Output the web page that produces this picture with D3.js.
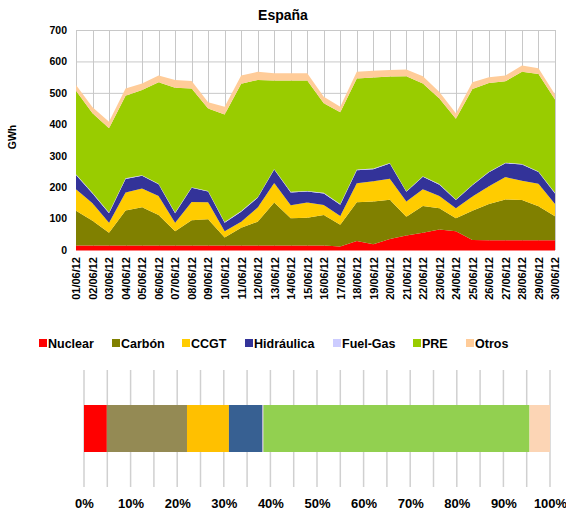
<!DOCTYPE html>
<html>
<head>
<meta charset="utf-8">
<script src="https://cdn.jsdelivr.net/npm/d3@7"></script>
<style>
  body { margin: 0; background: #fff; }
  text { font-family: Arial, "Liberation Sans", sans-serif; font-weight: bold; fill: #000; }
</style>
</head>
<body>
<svg id="chart" width="566" height="513"></svg>
<script>
/********************************************************
 ********************* Data *****************************
 ********************************************************/
var dates = ["01/06/12","02/06/12","03/06/12","04/06/12","05/06/12","06/06/12","07/06/12","08/06/12","09/06/12","10/06/12",
             "11/06/12","12/06/12","13/06/12","14/06/12","15/06/12","16/06/12","17/06/12","18/06/12","19/06/12","20/06/12",
             "21/06/12","22/06/12","23/06/12","24/06/12","25/06/12","26/06/12","27/06/12","28/06/12","29/06/12","30/06/12"];

// GWh per day
var nuclear    = [14,14,14,14,14,14,14,14,14,14,14,14,14,14,14,14,11,29,18,35,46,55,65,60,32,31,31,31,31,31];
var carbon     = [111,79,41,112,122,97,46,81,84,26,57,76,137,87,89,97,69,123,136,125,60,85,68,41,93,115,130,128,108,76];
var ccgt       = [68,56,32,57,60,61,27,58,54,20,19,45,62,41,48,32,28,60,65,67,48,53,39,32,45,57,71,61,72,39];
var hidraulica = [46,31,30,43,40,37,30,45,34,27,32,31,43,41,35,37,36,42,38,48,31,40,36,26,36,44,44,52,37,34];
var fuelgas    = [2,2,2,2,2,2,2,2,2,2,2,2,2,2,2,2,2,2,2,2,2,2,2,2,2,2,2,2,2,2];
var pre        = [266,253,268,263,271,323,397,314,262,342,405,373,281,354,351,285,292,290,290,275,366,295,272,257,304,282,259,293,310,297];
var otros      = [18,19,21,23,21,21,25,24,20,25,26,26,23,23,23,21,18,21,21,21,21,23,21,17,22,19,18,20,18,16];

var series_names = ["Nuclear","Carbón","CCGT","Hidráulica","Fuel-Gas","PRE","Otros"];
var area_colors  = ["#ff0000","#808000","#ffcc00","#333399","#ccccff","#99cc00","#ffcc99"];
var bar_colors   = ["#ff0000","#948a54","#ffc000","#376092","#b9b1d6","#92d050","#fcd5b5"];

// share of the month, percent
var shares = [4.9,17.2,9.0,7.1,0.3,57.1,4.4];

var y_ticks   = [0,100,200,300,400,500,600,700];
var pct_ticks = [0,10,20,30,40,50,60,70,80,90,100];

/********************************************************
 ********************* Stacked area *********************
 ********************************************************/
var svg = d3.select("#chart");
svg.append("rect").attr("width",566).attr("height",513).attr("fill","#fff");

var plot = {left: 76, right: 555, top: 30, bottom: 250};

var rows = dates.map(function(d, i) {
  return {date: d, "Nuclear": nuclear[i], "Carbón": carbon[i], "CCGT": ccgt[i], "Hidráulica": hidraulica[i],
          "Fuel-Gas": fuelgas[i], "PRE": pre[i], "Otros": otros[i]};
});

var x = d3.scalePoint().domain(dates).range([plot.left, plot.right]);
var y = d3.scaleLinear().domain([0, 700]).range([plot.bottom, plot.top]);

// gridlines
var grid = svg.append("g").attr("stroke","#c8c8c8").attr("stroke-width",1);
grid.selectAll(".hg").data(y_ticks).enter().append("line")
  .attr("x1",plot.left).attr("x2",plot.right)
  .attr("y1",function(d){ return y(d)+0.5; }).attr("y2",function(d){ return y(d)+0.5; });
grid.selectAll(".vg").data(dates).enter().append("line")
  .attr("y1",plot.top).attr("y2",plot.bottom)
  .attr("x1",function(d){ return Math.round(x(d))+0.5; }).attr("x2",function(d){ return Math.round(x(d))+0.5; });

var stack = d3.stack().keys(series_names);
var layers = stack(rows);

var area = d3.area()
  .x(function(d){ return x(d.data.date); })
  .y0(function(d){ return y(d[0]); })
  .y1(function(d){ return y(d[1]); });

svg.append("g").selectAll("path").data(layers).enter().append("path")
  .attr("d", area)
  .attr("fill", function(d, i){ return area_colors[i]; });

// y axis
var yAxis = svg.append("g")
  .attr("transform","translate(" + plot.left + ",0)")
  .call(d3.axisLeft(y).tickValues(y_ticks).tickSize(0).tickPadding(9));
yAxis.select(".domain").remove();
yAxis.selectAll("text").style("font-size","10.5px");

// x axis
var xAxis = svg.append("g")
  .attr("transform","translate(0," + plot.bottom + ")")
  .call(d3.axisBottom(x).tickSize(0));
xAxis.select(".domain").remove();
xAxis.selectAll("text")
    .attr("transform","rotate(-90)")
    .attr("x",-7)
    .attr("y",0)
    .attr("dy","0.35em")
    .style("text-anchor","end")
    .style("font-size","11px");

svg.append("line").attr("x1",plot.left).attr("x2",plot.right)
  .attr("y1",plot.bottom+0.5).attr("y2",plot.bottom+0.5).attr("stroke","#ff8080");

svg.append("text").attr("x",283).attr("y",20).attr("text-anchor","middle")
  .style("font-size","14px").text("España");

svg.append("text").attr("transform","translate(16,137) rotate(-90)")
  .attr("text-anchor","middle").style("font-size","10.5px").text("GWh");

/********************************************************
 ********************* Legend ***************************
 ********************************************************/
var legend_x = [39,112,182,245,333,413,466];
var legend = svg.append("g").selectAll("g").data(series_names).enter().append("g")
  .attr("transform", function(d, i){ return "translate(" + legend_x[i] + ",339)"; });
legend.append("rect").attr("width",8).attr("height",8)
  .attr("fill", function(d, i){ return area_colors[i]; });
legend.append("text").attr("x",9).attr("y",8.5)
  .style("font-size","12.5px").text(function(d){ return d; });

/********************************************************
 ********************* 100% bar *************************
 ********************************************************/
var px = d3.scaleLinear().domain([0,100]).range([84, 550]);

svg.append("g").attr("stroke","#d0d0d0").attr("stroke-width",1.5)
  .selectAll("line").data(d3.range(0,101,5)).enter().append("line")
  .attr("x1",function(d){ return px(d); }).attr("x2",function(d){ return px(d); })
  .attr("y1",370).attr("y2",487);

var cum = 0;
var segs = shares.map(function(v, i){
  var s = {start: cum, end: cum + v, color: bar_colors[i]};
  cum += v;
  return s;
});
svg.append("g").selectAll("rect").data(segs).enter().append("rect")
  .attr("x",function(d){ return px(d.start); })
  .attr("width",function(d){ return px(d.end) - px(d.start); })
  .attr("y",405).attr("height",47)
  .attr("fill",function(d){ return d.color; });

var pAxis = svg.append("g").attr("transform","translate(0,487)")
  .call(d3.axisBottom(px).tickValues(pct_ticks).tickSize(0).tickPadding(12)
    .tickFormat(function(d){ return d + "%"; }));
pAxis.select(".domain").remove();
pAxis.selectAll("text").style("font-size","13px");
</script>
</body>
</html>
